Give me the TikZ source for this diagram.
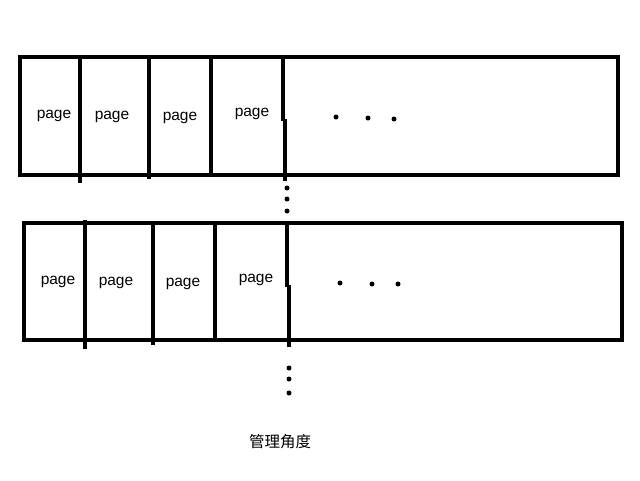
\documentclass[tikz,border=0pt]{standalone}
\usepackage{fontspec}
\setmainfont{Liberation Sans}
\newfontfamily\cjk{Noto Sans CJK SC}
\begin{document}
\begin{tikzpicture}[x=1pt,y=-1pt,
  frame/.style={line width=4pt, line join=miter},
  divider/.style={line width=4pt},
  lbl/.style={font=\fontsize{15.5}{17}\selectfont, inner sep=0pt},
  dotmark/.style={fill=black, draw=none}]
\useasboundingbox (0,0) rectangle (640,480);
% top row
\draw[frame] (20,57) rectangle (618,175);
\draw[divider] (80,55) -- (80,183);
\draw[divider] (149,58) -- (149,179);
\draw[divider] (211,58) -- (211,174);
\draw[divider] (283,58) -- (283,121);
\draw[divider] (285,119) -- (285,181);
\node[lbl] (t1) at (54,116) {page};
\node[lbl] (t2) at (112,117) {page};
\node[lbl] (t3) at (180,118) {page};
\node[lbl] (t4) at (252,114) {page};
\foreach \x/\y in {336/117,368/118,394/119} \fill[dotmark] (\x,\y) circle (2.5);
\foreach \y in {188,199,211} \fill[dotmark] (287,\y) circle (2.5);
% bottom row
\draw[frame] (24,223) rectangle (622,340);
\draw[divider] (85,220) -- (85,349);
\draw[divider] (153,224) -- (153,345);
\draw[divider] (215,224) -- (215,340);
\draw[divider] (287,224) -- (287,287);
\draw[divider] (289,285) -- (289,347);
\node[lbl] (b1) at (58,282) {page};
\node[lbl] (b2) at (116,283) {page};
\node[lbl] (b3) at (183,284) {page};
\node[lbl] (b4) at (256,280) {page};
\foreach \x/\y in {340/283,372/284,398/284} \fill[dotmark] (\x,\y) circle (2.5);
\foreach \y in {368,379,393} \fill[dotmark] (289,\y) circle (2.5);
\node[inner sep=0pt, font=\cjk\fontsize{15.5}{17}\selectfont] (title) at (280,442) {管理角度};
\end{tikzpicture}
\end{document}
